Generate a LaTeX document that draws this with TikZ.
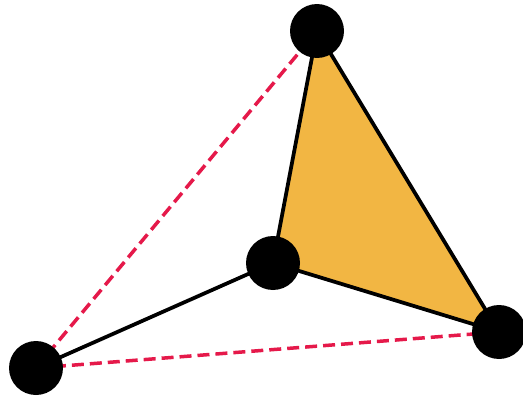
\documentclass[tikz,border=0pt]{standalone}
\usetikzlibrary{backgrounds}
\definecolor{faceOr}{HTML}{F2B643}
\definecolor{hidRed}{HTML}{E5194A}

\begin{document}
\begin{tikzpicture}[x=0.02cm,y=-0.02cm,
  vert/.style={circle,fill=black,minimum size=1.08cm,inner sep=0pt},
  edge/.style={line width=0.075cm,black},
  hid/.style={line width=0.07cm,hidRed,dash pattern=on 0.24cm off 0.12cm}]
\useasboundingbox (0,0) rectangle (523,399);
\node[vert] (top) at (317,31) {};
\node[vert] (mid) at (273,263) {};
\node[vert] (rgt) at (499,332) {};
\node[vert] (lft) at (36,368) {};
\begin{scope}[on background layer]
\fill[faceOr] (top.center)--(mid.center)--(rgt.center)--cycle;
\draw[hid] (lft.center)--(top.center);
\draw[hid] (lft.center)--(rgt.center);
\draw[edge] (lft.center)--(mid.center);
\draw[edge] (mid.center)--(top.center);
\draw[edge] (top.center)--(rgt.center);
\draw[edge] (mid.center)--(rgt.center);
\end{scope}
\end{tikzpicture}
\end{document}
